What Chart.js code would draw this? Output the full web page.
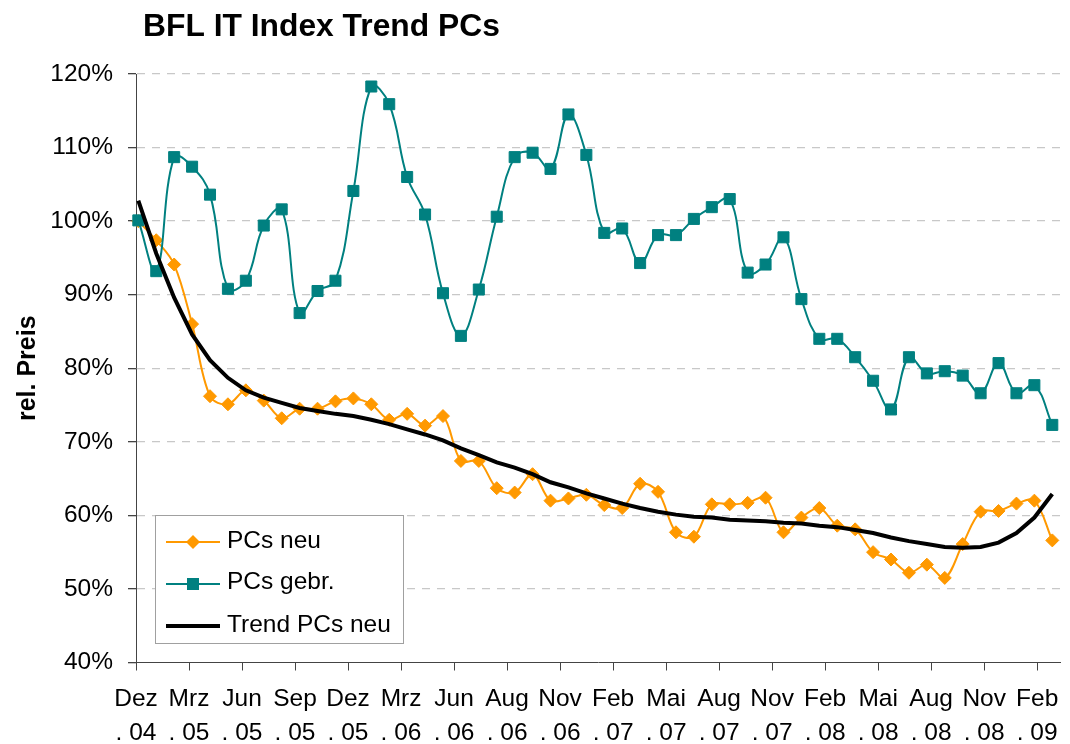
<!DOCTYPE html>
<html>
<head>
<meta charset="utf-8">
<script src="https://cdn.jsdelivr.net/npm/chart.js@4.4.1/dist/chart.umd.min.js"></script>
<style>
  html, body { margin: 0; padding: 0; background: #fff; }
  canvas { display: block; }
</style>
</head>
<body>
<canvas id="chart" width="1070" height="744"></canvas>
<script>
// Monthly categories, Dez 04 .. Mrz 09
const months = [
  'Dez 04',
  'Jan 05', 'Feb 05', 'Mrz 05', 'Apr 05', 'Mai 05', 'Jun 05', 'Jul 05', 'Aug 05', 'Sep 05', 'Okt 05', 'Nov 05', 'Dez 05',
  'Jan 06', 'Feb 06', 'Mrz 06', 'Apr 06', 'Mai 06', 'Jun 06', 'Jul 06', 'Aug 06', 'Sep 06', 'Okt 06', 'Nov 06', 'Dez 06',
  'Jan 07', 'Feb 07', 'Mrz 07', 'Apr 07', 'Mai 07', 'Jun 07', 'Jul 07', 'Aug 07', 'Sep 07', 'Okt 07', 'Nov 07', 'Dez 07',
  'Jan 08', 'Feb 08', 'Mrz 08', 'Apr 08', 'Mai 08', 'Jun 08', 'Jul 08', 'Aug 08', 'Sep 08', 'Okt 08', 'Nov 08', 'Dez 08',
  'Jan 09', 'Feb 09', 'Mrz 09'
];

// rel. Preis in %
const pcsNeu = [
  100.0, 97.4, 94.1, 86.0, 76.2, 75.1, 77.0, 75.6, 73.2, 74.5,
  74.5, 75.5, 75.9, 75.1, 73.0, 73.8, 72.2, 73.5, 67.4, 67.4,
  63.7, 63.1, 65.6, 62.0, 62.3, 62.8, 61.4, 61.0, 64.3, 63.2,
  57.7, 57.1, 61.5, 61.5, 61.7, 62.4, 57.7, 59.7, 61.0, 58.6,
  58.1, 55.0, 54.0, 52.2, 53.3, 51.5, 56.1, 60.5, 60.6, 61.6,
  62.0, 56.6
];
const pcsGebr = [
  100.1, 93.2, 108.7, 107.4, 103.6, 90.8, 91.9, 99.4, 101.6, 87.5,
  90.5, 91.9, 104.1, 118.3, 115.9, 106.0, 100.9, 90.2, 84.4, 90.7,
  100.6, 108.7, 109.3, 107.1, 114.5, 109.0, 98.4, 99.0, 94.3, 98.1,
  98.1, 100.3, 101.9, 103.0, 93.0, 94.1, 97.8, 89.4, 84.0, 84.0,
  81.5, 78.3, 74.4, 81.5, 79.3, 79.6, 79.0, 76.6, 80.7, 76.6,
  77.7, 72.3
];
const trendNeu = [
  102.8, 95.6, 89.6, 84.6, 81.1, 78.7, 77.0, 76.0, 75.3, 74.6,
  74.2, 73.8, 73.5, 73.0, 72.4, 71.7, 71.0, 70.2, 69.1, 68.2,
  67.2, 66.5, 65.6, 64.5, 63.8, 63.0, 62.3, 61.6, 61.0, 60.5,
  60.1, 59.8, 59.7, 59.4, 59.3, 59.2, 59.0, 58.9, 58.6, 58.4,
  58.0, 57.6, 57.0, 56.5, 56.1, 55.7, 55.6, 55.7, 56.3, 57.6,
  59.7, 62.9
];

// Axis labels (date axis, one label every 89 days)
const tickLabels = [
  ['Dez', '. 04'], ['Mrz', '. 05'], ['Jun', '. 05'], ['Sep', '. 05'], ['Dez', '. 05'],
  ['Mrz', '. 06'], ['Jun', '. 06'], ['Aug', '. 06'], ['Nov', '. 06'], ['Feb', '. 07'],
  ['Mai', '. 07'], ['Aug', '. 07'], ['Nov', '. 07'], ['Feb', '. 08'], ['Mai', '. 08'],
  ['Aug', '. 08'], ['Nov', '. 08'], ['Feb', '. 09']
];
const yTicks = [40, 50, 60, 70, 80, 90, 100, 110, 120];

const FONT = "'Liberation Sans', Arial, sans-serif";
const ORANGE = '#FF9900';
const TEAL = '#008080';
const X_MIN = -0.13, X_MAX = 51.45, TICK_STEP = 2.958;

Chart.defaults.color = '#000';
Chart.defaults.font.family = FONT;

const toPoints = arr => arr.map((v, i) => ({ x: months.indexOf(months[i]), y: v }));

// Title drawn left aligned like the original
const titlePlugin = {
    id: 'titleText',
    afterDraw(chart) {
        const ctx = chart.ctx;
        ctx.save();
        ctx.fillStyle = '#000';
        ctx.font = `bold 31.8px ${FONT}`;
        ctx.textBaseline = 'alphabetic';
        ctx.fillText('BFL IT Index Trend PCs', 143, 36);
        ctx.restore();
    }
};

// Boxed legend inside the plot
const legendPlugin = {
    id: 'boxLegend',
    afterDraw(chart) {
        const ctx = chart.ctx;
        ctx.save();
        ctx.fillStyle = '#fff';
        ctx.fillRect(155.5, 515.5, 248, 128);
        ctx.strokeStyle = '#a0a0a0';
        ctx.lineWidth = 1;
        ctx.strokeRect(155.5, 515.5, 248, 128);

        const items = [
            { text: 'PCs neu', color: ORANGE, width: 2, marker: 'diamond', y: 542, base: 548 },
            { text: 'PCs gebr.', color: TEAL, width: 2, marker: 'square', y: 584, base: 589 },
            { text: 'Trend PCs neu', color: '#000', width: 4, marker: null, y: 626, base: 631.5 }
        ];
        items.forEach(it => {
            ctx.strokeStyle = it.color;
            ctx.lineWidth = it.width;
            ctx.beginPath();
            ctx.moveTo(166, it.y);
            ctx.lineTo(220, it.y);
            ctx.stroke();
            ctx.fillStyle = it.color;
            if (it.marker === 'diamond') {
                ctx.beginPath();
                ctx.moveTo(193, it.y - 7);
                ctx.lineTo(200, it.y);
                ctx.lineTo(193, it.y + 7);
                ctx.lineTo(186, it.y);
                ctx.closePath();
                ctx.fill();
            } else if (it.marker === 'square') {
                ctx.fillRect(187, it.y - 6, 12, 12);
            }
            ctx.fillStyle = '#000';
            ctx.font = `24.5px ${FONT}`;
            ctx.textBaseline = 'alphabetic';
            ctx.fillText(it.text, 227, it.base);
        });
        ctx.restore();
    }
};

new Chart(document.getElementById('chart').getContext('2d'), {
    type: 'line',
    data: {
        datasets: [
            {
                label: 'Trend PCs neu',
                data: toPoints(trendNeu),
                borderColor: '#000',
                borderWidth: 4,
                pointRadius: 0,
                tension: 0,
                clip: false,
                order: 1
            },
            {
                label: 'PCs gebr.',
                data: toPoints(pcsGebr),
                borderColor: TEAL,
                backgroundColor: TEAL,
                borderWidth: 2,
                pointStyle: 'rect',
                pointRadius: 7.8,
                pointBorderWidth: 1,
                pointBorderColor: TEAL,
                pointBackgroundColor: TEAL,
                tension: 0.4,
                clip: false,
                order: 2
            },
            {
                label: 'PCs neu',
                data: toPoints(pcsNeu),
                borderColor: ORANGE,
                backgroundColor: ORANGE,
                borderWidth: 2,
                pointStyle: 'rectRot',
                pointRadius: 6.5,
                pointBorderWidth: 1,
                pointBorderColor: ORANGE,
                pointBackgroundColor: ORANGE,
                tension: 0.35,
                clip: false,
                order: 3
            }
        ]
    },
    options: {
        responsive: false,
        animation: false,
        layout: { padding: { left: 0, right: 8, top: 74, bottom: 0 } },
        plugins: {
            legend: { display: false },
            title: { display: false },
            tooltip: { enabled: false }
        },
        scales: {
            x: {
                type: 'linear',
                min: X_MIN,
                max: X_MAX,
                afterBuildTicks: scale => {
                    scale.ticks = tickLabels.map((l, k) => ({ value: X_MIN + k * TICK_STEP }));
                },
                afterFit: scale => { scale.height = 81.5; },
                grid: { drawOnChartArea: false, tickLength: 8, tickColor: '#444', color: '#444' },
                border: { color: '#444', width: 1 },
                ticks: {
                    autoSkip: false,
                    maxRotation: 0,
                    minRotation: 0,
                    padding: 11.5,
                    font: { size: 24.5, lineHeight: 34 / 24.5 },
                    callback: (v, i) => tickLabels[i]
                }
            },
            y: {
                min: 40,
                max: 120,
                afterBuildTicks: scale => {
                    scale.ticks = yTicks.map(v => ({ value: v }));
                },
                afterFit: scale => { scale.width = 136; },
                grid: {
                    color: c => (c.tick && c.tick.value === 40) ? 'rgba(0,0,0,0)' : '#c8c8c8',
                    lineWidth: 1.3,
                    tickLength: 8,
                    tickColor: '#444'
                },
                border: { color: '#444', width: 1, dash: [8, 7] },
                ticks: {
                    padding: 15,
                    font: { size: 24.5 },
                    callback: v => v + '%'
                },
                title: {
                    display: true,
                    text: 'rel. Preis',
                    font: { size: 25, weight: 'bold' },
                    padding: { top: 13, bottom: 0 }
                }
            }
        }
    },
    plugins: [titlePlugin, legendPlugin]
});
</script>
</body>
</html>
